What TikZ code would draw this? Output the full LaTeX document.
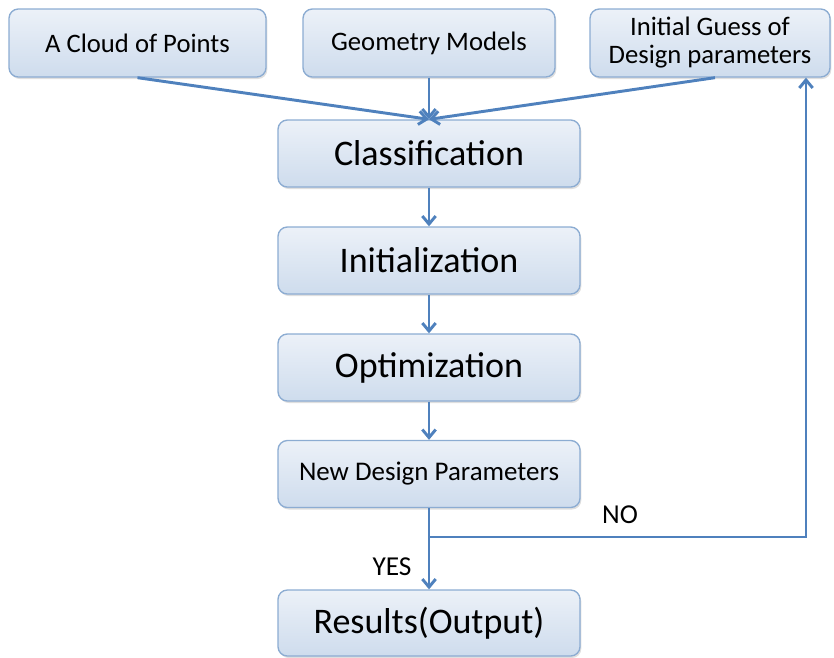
\documentclass[tikz,border=0pt]{standalone}
\usepackage{fontspec}
\setmainfont{Carlito}
\usepackage{tikz}
\usetikzlibrary{arrows.meta,shadows,positioning,calc}
\definecolor{flowBlue}{RGB}{79,129,189}
\definecolor{boxEdge}{RGB}{140,172,210}
\definecolor{boxTop}{RGB}{236,241,248}
\definecolor{boxBottom}{RGB}{206,220,237}
\tikzset{
  flowbox/.style={
    rectangle, rounded corners=7pt, draw=boxEdge, line width=1pt,
    top color=boxTop, bottom color=boxBottom, align=center,
    drop shadow={shadow xshift=1pt,shadow yshift=-1.5pt,opacity=0.25}
  },
  flowArrow/.style={-{Straight Barb[length=6pt,width=10pt]}, line width=2.2pt, color=flowBlue}
}
\begin{document}
\begin{tikzpicture}[x=0.75pt, y=-0.75pt,
        topbox/.style={flowbox, minimum height=51pt, font=\fontsize{20}{21}\selectfont},
        stepbox/.style={flowbox, minimum width=226.5pt, minimum height=50.25pt,
                        font=\fontsize{27}{30}\selectfont},
        lbl/.style={font=\fontsize{20.5}{22}\selectfont}]
        \useasboundingbox (0,0) rectangle (834,657);
        % inputs
        \node[topbox, minimum width=192.75pt] (cloud) at (137.5,43) {A Cloud of Points};
        \node[topbox, minimum width=189pt] (geom) at (429,43) {Geometry Models};
        \node[topbox, minimum width=180pt] (guess) at (710,43) {Initial Guess of\\Design parameters};
        % main chain
        \node[stepbox] (classif) at (429,153.5) {Classification};
        \node[stepbox] (init) at (429,260.5) {Initialization};
        \node[stepbox] (optim) at (429,367.5) {Optimization};
        \node[stepbox, font=\fontsize{20.2}{22}\selectfont] (newdp) at (429,474) {New Design Parameters};
        \node[stepbox, minimum height=49.5pt] (results) at (429,623) {Results(Output)};
        \coordinate (split) at (429,537);
        \coordinate (back) at (806,537);
        \draw[flowArrow] (cloud.south) -- (classif.north);
        \draw[flowArrow] (geom.south) -- (classif.north);
        \draw[flowArrow] ($(guess.south)+(5,0)$) -- (classif.north);
        \draw[flowArrow] (classif) -- (init);
        \draw[flowArrow] (init) -- (optim);
        \draw[flowArrow] (optim) -- (newdp);
        \draw[flowArrow] (newdp) -- (results);
        \draw[flowArrow] (split) -- (back) -- (back |- guess.south);
        \node[lbl] (yes) at (392,567) {YES};
        \node[lbl] (no) at (620,515) {NO};
      \end{tikzpicture}
\end{document}
